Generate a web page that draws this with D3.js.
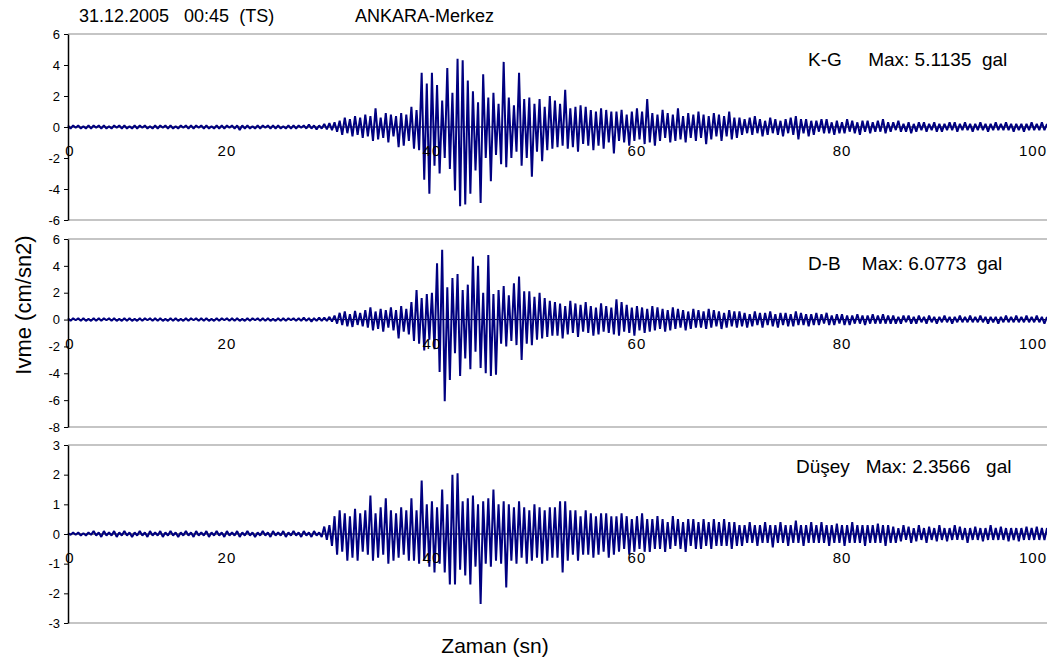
<!DOCTYPE html>
<html lang="en">
  <head>
    <meta charset="utf-8">
    <title>ANKARA-Merkez ivme kaydi</title>
    <script type="text/javascript" src="https://cdn.jsdelivr.net/npm/d3@7"></script>
    <style>
      body { margin: 0; background: #fff; }
      svg { display: block; font-family: "Liberation Sans", Arial, sans-serif; }
    </style>
  </head>
  <body>
    <script type="text/javascript">
    // sampling of the records (seconds)
    var startTime = 4.5;
    var step = 0.25;

    // K-G component (cm/sn2)
    var kgValues = [
      0.1,-0.1,0.1,-0.05,0.1,-0.1,0.05,-0.1,0.1,-0.1,
      0.1,-0.05,0.1,-0.1,0.1,-0.1,0.05,-0.1,0.1,-0.05,
      0.1,-0.1,0.1,-0.1,0.05,-0.1,0.1,-0.1,0.1,-0.05,
      0.1,-0.1,0.05,-0.1,0.1,-0.1,0.1,-0.05,0.1,-0.1,
      0.1,-0.1,0.05,-0.1,0.1,-0.05,0.1,-0.1,0.1,-0.1,
      0.1,-0.05,0.1,-0.1,0.1,-0.1,0.05,-0.1,0.1,-0.1,
      0.1,-0.1,0.1,-0.05,0.1,-0.1,0.1,-0.2,0.1,-0.1,
      0.1,-0.1,0.05,-0.1,0.1,-0.1,0.1,-0.05,0.1,-0.1,
      0.1,-0.1,0.1,-0.1,0.05,-0.1,0.1,-0.1,0.1,-0.1,
      0.1,-0.05,0.1,-0.1,0.15,-0.1,0.1,-0.15,0.1,-0.1,
      0.2,-0.15,0.25,-0.2,0.3,-0.3,0.4,-0.5,0.6,-0.4,0.5,-0.6,0.7,-0.5,0.6,-0.7,
      0.8,-0.6,0.7,-0.9,1.2,-0.8,0.6,-0.7,0.9,-1.0,0.8,-0.6,0.7,-1.3,0.9,-1.2,0.8,-0.9,
      1.3,-1.4,1.1,-1.5,
      3.5,-3.4,2.8,-4.3,3.5,-2.5,2.7,-3.0,1.7,-2.0,3.8,-2.7,2.2,-4.1,4.4,-5.11,4.3,-5.0,3.0,-4.3,2.3,-2.8,1.6,-4.9,
      3.4,-2.0,1.9,-3.5,2.2,-1.8,1.5,-2.4,4.2,-2.6,1.9,-2.0,1.4,-1.6,3.5,-2.5,1.8,-2.0,1.9,-3.2,1.5,-1.6,1.8,-2.2,1.3,-1.5,2.0,-1.4,
      1.7,-1.3,1.5,-1.2,2.4,-1.4,1.2,-1.3,1.3,-1.6,1.4,-1.1,1.3,-1.2,1.1,-1.5,1.0,-1.2,1.2,-1.4,1.1,-1.0,1.0,-1.7,
      1.0,-0.9,1.1,-1.0,0.8,-1.2,1.0,-0.9,1.2,-0.8,1.0,-1.1,1.8,-1.0,0.9,-1.2,
      0.8,-0.9,1.1,-0.7,0.9,-1.0,0.8,-0.9,1.2,-0.8,0.7,-1.0,0.9,-0.7,0.8,-0.9,
      1.0,-0.7,0.8,-1.1,0.7,-0.8,0.9,-0.6,0.8,-0.9,0.7,-0.6,1.0,-0.8,0.6,-0.7,
      0.6,-0.5,0.5,-0.4,0.6,-0.5,0.7,-0.4,0.5,-0.6,
      0.4,-0.5,0.6,-0.4,0.5,-0.5,0.4,-0.6,0.5,-0.4,
      0.6,-0.5,0.7,-0.8,0.5,-0.4,0.5,-0.6,0.4,-0.5,
      0.4,-0.3,0.5,-0.4,0.5,-0.4,0.3,-0.5,0.4,-0.4,
      0.3,-0.4,0.5,-0.3,0.4,-0.4,0.3,-0.5,0.4,-0.3,
      0.4,-0.4,0.3,-0.3,0.4,-0.3,0.5,-0.4,0.3,-0.3,
      0.3,-0.2,0.4,-0.3,0.2,-0.3,0.3,-0.4,0.2,-0.3,
      0.3,-0.2,0.3,-0.3,0.2,-0.2,0.3,-0.3,0.2,-0.3,
      0.2,-0.2,0.3,-0.2,0.3,-0.3,0.2,-0.2,0.3,-0.2,
      0.2,-0.3,0.2,-0.2,0.3,-0.2,0.2,-0.3,0.2,-0.2,
      0.3,-0.2,0.2,-0.2,0.3,-0.2,0.2,-0.3,0.2,-0.2,
      0.2,-0.3,0.2,-0.2,0.3,-0.2,0.2,-0.2,0.3,-0.2,0.2
    ];

    // D-B component
    var dbValues = [
      0.1,-0.1,0.1,-0.05,0.1,-0.1,0.1,-0.1,0.05,-0.1,
      0.1,-0.1,0.1,-0.1,0.1,-0.05,0.1,-0.1,0.1,-0.1,
      0.05,-0.1,0.1,-0.1,0.1,-0.1,0.05,-0.1,0.1,-0.1,
      0.1,-0.05,0.1,-0.1,0.1,-0.1,0.1,-0.1,0.05,-0.1,
      0.1,-0.1,0.1,-0.1,0.05,-0.1,0.1,-0.1,0.1,-0.05,
      0.1,-0.1,0.1,-0.1,0.1,-0.1,0.05,-0.1,0.1,-0.1,
      0.1,-0.05,0.1,-0.1,0.1,-0.1,0.1,-0.1,0.05,-0.1,
      0.1,-0.1,0.1,-0.05,0.1,-0.1,0.1,-0.1,0.1,-0.1,
      0.05,-0.1,0.1,-0.1,0.1,-0.1,0.1,-0.05,0.1,-0.1,
      0.1,-0.1,0.15,-0.1,0.1,-0.15,0.1,-0.1,0.15,-0.1,
      0.15,-0.1,0.2,-0.15,0.3,-0.3,0.5,-0.4,0.6,-0.5,0.4,-0.55,0.65,-0.4,0.5,-0.5,
      0.7,-0.6,0.9,-0.8,0.6,-0.7,0.8,-0.9,0.7,-0.6,0.9,-0.8,0.7,-1.4,1.0,-0.9,0.8,-1.1,
      1.3,-1.6,2.2,-1.8,
      1.6,-2.3,1.9,-1.5,2.0,-2.2,4.2,-3.9,5.2,-6.08,2.4,-4.5,3.1,-2.5,3.4,-4.2,2.2,-2.9,2.6,-3.7,4.7,-2.4,4.0,-3.6,
      2.0,-4.0,4.8,-4.2,1.9,-4.1,2.2,-1.8,2.5,-2.0,1.8,-1.6,2.7,-1.9,3.2,-3.0,2.1,-1.8,2.1,-1.9,1.7,-1.5,2.0,-1.4,1.6,-1.3,1.4,-1.2,
      1.3,-1.2,1.2,-1.4,1.0,-1.1,1.4,-1.0,1.2,-1.3,1.1,-0.9,1.3,-1.0,1.0,-1.2,0.9,-1.1,1.2,-0.9,1.0,-1.0,0.9,-1.1,
      1.5,-1.2,1.3,-0.9,1.1,-1.0,0.9,-1.2,1.0,-0.8,0.9,-1.0,0.8,-0.9,1.0,-0.8,
      0.9,-0.7,0.8,-0.9,0.7,-0.8,0.9,-0.7,0.8,-0.6,0.7,-0.8,0.6,-0.7,0.8,-0.6,
      0.7,-0.6,0.6,-0.7,0.8,-0.6,0.7,-0.5,0.6,-0.7,0.5,-0.6,0.7,-0.5,0.6,-0.6,
      0.6,-0.5,0.5,-0.6,0.4,-0.5,0.6,-0.4,0.5,-0.6,
      0.5,-0.4,0.6,-0.5,0.4,-0.6,0.5,-0.4,0.5,-0.5,
      0.4,-0.5,0.6,-0.4,0.5,-0.4,0.4,-0.5,0.4,-0.4,
      0.5,-0.4,0.4,-0.3,0.5,-0.4,0.3,-0.4,0.4,-0.3,
      0.4,-0.4,0.3,-0.4,0.3,-0.3,0.4,-0.3,0.3,-0.4,
      0.3,-0.3,0.4,-0.3,0.3,-0.3,0.4,-0.3,0.3,-0.3,
      0.3,-0.3,0.2,-0.3,0.3,-0.2,0.3,-0.3,0.2,-0.3,
      0.3,-0.2,0.2,-0.3,0.3,-0.2,0.2,-0.3,0.2,-0.2,
      0.3,-0.2,0.2,-0.3,0.2,-0.2,0.3,-0.2,0.2,-0.2,
      0.3,-0.2,0.2,-0.2,0.3,-0.2,0.2,-0.3,0.2,-0.2,
      0.2,-0.3,0.2,-0.2,0.3,-0.2,0.2,-0.2,0.3,-0.2,
      0.2,-0.2,0.3,-0.2,0.2,-0.2,0.3,-0.2,0.2,-0.3,0.2
    ];

    // Dusey (vertical) component
    var dusValues = [
      0.03,-0.03,0.05,-0.03,0.05,-0.05,0.03,-0.05,0.05,-0.03,
      0.1,-0.05,0.05,-0.1,0.1,-0.05,0.05,-0.05,0.1,-0.1,
      0.05,-0.05,0.1,-0.05,0.05,-0.1,0.05,-0.05,0.1,-0.05,
      0.05,-0.1,0.1,-0.05,0.05,-0.05,0.1,-0.1,0.05,-0.05,
      0.1,-0.05,0.05,-0.1,0.05,-0.05,0.1,-0.05,0.05,-0.1,
      0.1,-0.05,0.05,-0.05,0.1,-0.1,0.05,-0.05,0.1,-0.05,
      0.05,-0.1,0.1,-0.05,0.05,-0.05,0.1,-0.1,0.05,-0.05,
      0.1,-0.05,0.05,-0.1,0.05,-0.05,0.1,-0.05,0.05,-0.1,
      0.1,-0.05,0.05,-0.05,0.1,-0.1,0.05,-0.05,0.1,-0.05,
      0.05,-0.1,0.1,-0.05,0.05,-0.1,0.1,-0.05,0.05,-0.1,
      0.25,-0.2,0.3,-0.4,0.6,-0.7,0.8,-0.6,0.7,-0.9,0.6,-0.8,0.85,-0.9,0.7,-0.6,
      0.8,-0.7,1.3,-0.9,0.7,-0.8,0.9,-0.7,1.2,-1.0,0.8,-0.9,0.7,-0.8,0.9,-0.7,0.8,-0.9,
      1.2,-0.9,0.8,-1.0,
      1.8,-0.9,1.0,-1.1,1.1,-1.3,0.9,-1.0,1.5,-1.3,1.0,-1.7,2.0,-1.7,2.05,-1.2,1.1,-1.4,1.2,-1.7,1.3,-1.1,1.0,-2.36,
      1.1,-1.0,1.2,-1.1,1.5,-0.9,1.0,-1.0,1.1,-1.8,1.0,-0.9,0.9,-1.0,1.1,-0.8,0.9,-1.0,0.8,-0.9,1.0,-0.8,0.9,-1.0,0.8,-0.9,0.9,-0.8,
      0.9,-0.8,1.1,-1.3,1.1,-0.9,0.8,-0.7,0.8,-0.9,0.6,-0.7,0.8,-0.7,0.7,-0.8,0.6,-0.7,0.7,-0.6,0.7,-0.8,0.6,-0.7,
      0.6,-0.6,0.7,-0.5,0.6,-0.7,0.5,-0.6,0.6,-0.5,0.7,-0.6,0.5,-0.6,0.5,-0.5,
      0.6,-0.5,0.5,-0.6,0.4,-0.5,0.6,-0.4,0.5,-0.5,0.4,-0.6,0.5,-0.4,0.5,-0.5,
      0.4,-0.5,0.5,-0.4,0.4,-0.5,0.5,-0.4,0.4,-0.4,0.5,-0.4,0.4,-0.5,0.4,-0.4,
      0.3,-0.4,0.3,-0.3,0.4,-0.3,0.3,-0.4,0.3,-0.3,
      0.4,-0.3,0.3,-0.45,0.3,-0.3,0.4,-0.3,0.3,-0.4,
      0.3,-0.3,0.45,-0.3,0.3,-0.4,0.3,-0.3,0.4,-0.3,
      0.3,-0.3,0.4,-0.3,0.3,-0.4,0.3,-0.3,0.35,-0.3,
      0.3,-0.4,0.3,-0.3,0.4,-0.3,0.3,-0.3,0.3,-0.4,
      0.3,-0.3,0.3,-0.3,0.35,-0.3,0.3,-0.4,0.3,-0.3,
      0.25,-0.3,0.2,-0.25,0.3,-0.2,0.25,-0.3,0.2,-0.25,
      0.3,-0.2,0.2,-0.3,0.25,-0.2,0.2,-0.25,0.3,-0.2,
      0.2,-0.25,0.2,-0.2,0.3,-0.2,0.25,-0.2,0.2,-0.3,
      0.2,-0.2,0.25,-0.2,0.2,-0.25,0.2,-0.2,0.3,-0.2,
      0.2,-0.2,0.25,-0.2,0.2,-0.25,0.2,-0.2,0.2,-0.25,
      0.2,-0.2,0.25,-0.2,0.2,-0.2,0.25,-0.2,0.2,-0.2,0.2
    ];

    // tick labels
    var xTicks = [0, 20, 40, 60, 80, 100];
    var kgTicks = [-6, -4, -2, 0, 2, 4, 6];
    var dbTicks = [-8, -6, -4, -2, 0, 2, 4, 6];
    var dusTicks = [-3, -2, -1, 0, 1, 2, 3];

    // texts
    var dateText = "31.12.2005   00:45  (TS)";
    var stationText = "ANKARA-Merkez";
    var panelLabels = ["K-G     Max: 5.1135  gal", "D-B    Max: 6.0773  gal", "Düşey   Max: 2.3566   gal"];
    var yTitle = "Ivme (cm/sn2)";
    var xTitle = "Zaman (sn)";

    var w = 1047;
    var h = 666;
    var plotLeft = 68;
    var plotRight = 1047;

    var panels = [
      { values: kgValues, ticks: kgTicks, min: -6, max: 6, top: 34, bottom: 220, label: panelLabels[0], lx: 808, ly: 66 },
      { values: dbValues, ticks: dbTicks, min: -8, max: 6, top: 239, bottom: 427, label: panelLabels[1], lx: 808, ly: 270 },
      { values: dusValues, ticks: dusTicks, min: -3, max: 3, top: 445, bottom: 623, label: panelLabels[2], lx: 796, ly: 473 }
    ];

    var svg = d3.select("body")
                .append("svg")
                .attr("width", w)
                .attr("height", h);

    var xScale = d3.scaleLinear()
                   .domain([startTime, 100])
                   .range([plotLeft, plotRight]);

    var plotPanel = function(p) {
      var yScale = d3.scaleLinear()
                     .domain([p.min, p.max])
                     .range([p.bottom, p.top]);

      // grey frame lines top and bottom
      [p.min, p.max].forEach(function(v) {
        svg.append("line")
           .attr("x1", plotLeft).attr("x2", plotRight)
           .attr("y1", yScale(v)).attr("y2", yScale(v))
           .attr("stroke", "#8c8c8c")
           .attr("stroke-width", 1.2);
      });

      // horizontal axis at zero
      svg.append("line")
         .attr("x1", plotLeft).attr("x2", plotRight)
         .attr("y1", yScale(0)).attr("y2", yScale(0))
         .attr("stroke", "#000")
         .attr("stroke-width", 1);

      var line = d3.line()
                   .x(function(d, i) { return xScale(startTime + i * step); })
                   .y(function(d) { return yScale(d); });

      svg.append("path")
         .datum(p.values)
         .attr("d", line)
         .attr("fill", "none")
         .attr("stroke", "#000080")
         .attr("stroke-width", 2)
         .attr("stroke-linejoin", "bevel");

      var yAxis = d3.axisLeft(yScale)
                    .tickValues(p.ticks)
                    .tickSize(4)
                    .tickSizeOuter(0)
                    .tickPadding(4)
                    .tickFormat(function(d) { return String(d); });

      var g = svg.append("g")
                 .attr("transform", "translate(" + plotLeft + ",0)")
                 .call(yAxis);
      g.select(".domain").attr("stroke", "#000").attr("stroke-width", 1.5);
      g.selectAll(".tick line").attr("stroke", "#000");
      g.selectAll(".tick text")
       .attr("font-family", "Liberation Sans, Arial, sans-serif")
       .attr("font-size", 13)
       .attr("fill", "#000");

      // time labels sit under the zero line, kept inside the plot
      svg.selectAll(null)
         .data(xTicks)
         .enter()
         .append("text")
         .attr("x", function(d) { return Math.min(Math.max(xScale(d), plotLeft + 2), plotRight - 14); })
         .attr("y", yScale(0) + 29)
         .attr("text-anchor", "middle")
         .attr("font-size", 15)
         .attr("letter-spacing", 1)
         .text(function(d) { return d; });

      svg.append("text")
         .attr("x", p.lx)
         .attr("y", p.ly)
         .attr("font-size", 19)
         .style("white-space", "pre")
         .text(p.label);
    };

    panels.forEach(plotPanel);

    svg.append("text")
       .attr("x", 79).attr("y", 22)
       .attr("font-size", 18)
       .style("white-space", "pre")
       .text(dateText);

    svg.append("text")
       .attr("x", 355).attr("y", 22)
       .attr("font-size", 18)
       .text(stationText);

    svg.append("text")
       .attr("transform", "translate(31,305) rotate(-90)")
       .attr("text-anchor", "middle")
       .attr("font-size", 22)
       .text(yTitle);

    svg.append("text")
       .attr("x", 495).attr("y", 653)
       .attr("text-anchor", "middle")
       .attr("font-size", 21)
       .text(xTitle);
    </script>
  </body>
</html>
